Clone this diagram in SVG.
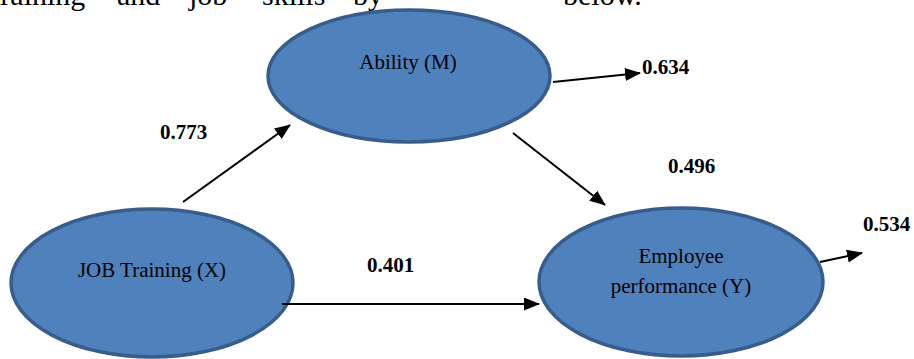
<svg xmlns="http://www.w3.org/2000/svg" width="914" height="359" viewBox="0 0 914 359">
<style>
.node{fill:#4f81bd;stroke:#385d8a;stroke-width:3.5}
.lbl{font-family:"Liberation Serif","Times New Roman",serif;font-size:21px;fill:#000;text-anchor:middle}
.w{font-family:"Liberation Serif","Times New Roman",serif;font-size:30px;fill:#000}
.num{font-family:"Liberation Serif","Times New Roman",serif;font-size:21px;font-weight:bold;fill:#000}
.edge{stroke:#000;stroke-width:2;fill:none;marker-end:url(#ah)}
</style>
<defs>
<marker id="ah" markerUnits="userSpaceOnUse" markerWidth="16" markerHeight="14" refX="15" refY="6.5" orient="auto">
<path d="M0,0 L16,6.5 L0,13 z" fill="#000"/>
</marker>
</defs>
<rect width="914" height="359" fill="#fff"/>
<g id="header-text">
<text class="w" x="-8" y="5">training</text>
<text class="w" x="117" y="5">and</text>
<text class="w" x="189" y="5">job</text>
<text class="w" x="262" y="5">skills</text>
<text class="w" x="353" y="5">by</text>
<text class="w" x="563" y="5">below.</text>
</g>
<g id="node-ability">
<ellipse class="node" cx="409" cy="76" rx="141" ry="66"/>
<text class="lbl" x="408" y="69">Ability (M)</text>
</g>
<g id="node-training">
<ellipse class="node" cx="152" cy="283" rx="141" ry="74"/>
<text class="lbl" x="152" y="277">JOB Training (X)</text>
</g>
<g id="node-performance">
<ellipse class="node" cx="681" cy="282" rx="142" ry="74"/>
<text class="lbl" x="681" y="263">Employee</text>
<text class="lbl" x="681" y="293">performance (Y)</text>
</g>
<g id="connectors">
<line class="edge" x1="183" y1="202" x2="290" y2="125"/>
<line class="edge" x1="553" y1="82" x2="640" y2="73"/>
<line class="edge" x1="513" y1="133" x2="605" y2="205"/>
<line class="edge" x1="282" y1="304" x2="539" y2="304"/>
<line class="edge" x1="820" y1="262" x2="862" y2="253"/>
</g>
<g id="labels">
<text class="num" x="160" y="139">0.773</text>
<text class="num" x="642" y="74">0.634</text>
<text class="num" x="668" y="173">0.496</text>
<text class="num" x="367" y="272">0.401</text>
<text class="num" x="863" y="231">0.534</text>
</g>
</svg>
